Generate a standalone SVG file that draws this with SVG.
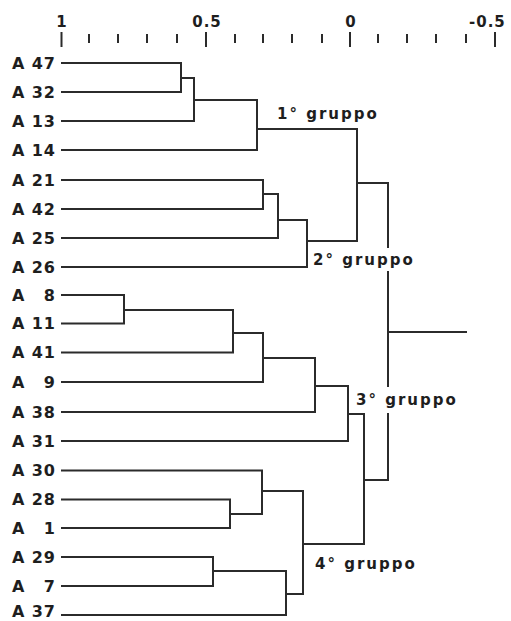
<svg xmlns="http://www.w3.org/2000/svg" width="511" height="621" viewBox="0 0 511 621">
<style>
  .ln { fill: none; stroke: #2b2b2b; stroke-width: 2; stroke-linejoin: miter; }
  .tk { stroke: #2b2b2b; stroke-width: 2; }
  .ax { font-family: "DejaVu Sans", "Liberation Sans", sans-serif; font-weight: bold; font-size: 15px; fill: #1e1e1e; letter-spacing: 1px; }
  .lf { font-family: "DejaVu Sans", "Liberation Sans", sans-serif; font-weight: bold; font-size: 16px; fill: #1e1e1e; letter-spacing: 1px; }
  .gr { font-family: "DejaVu Sans", "Liberation Sans", sans-serif; font-weight: bold; font-size: 15px; fill: #1e1e1e; letter-spacing: 2px; }
</style>
<rect width="511" height="621" fill="#ffffff"/>

<!-- similarity scale -->
<g id="axis">
  <text class="ax" x="62" y="27" text-anchor="middle">1</text>
  <text class="ax" x="207" y="27" text-anchor="middle">0.5</text>
  <text class="ax" x="351" y="27" text-anchor="middle">0</text>
  <text class="ax" x="469" y="27">-0.5</text>
  <g class="tk">
    <line x1="61.5" y1="32" x2="61.5" y2="47"/>
    <line x1="206" y1="32" x2="206" y2="47"/>
    <line x1="350" y1="32" x2="350" y2="47"/>
    <line x1="495" y1="32" x2="495" y2="47"/>
    <line x1="89" y1="34" x2="89" y2="43"/>
    <line x1="118" y1="34" x2="118" y2="43"/>
    <line x1="147" y1="34" x2="147" y2="43"/>
    <line x1="177" y1="34" x2="177" y2="43"/>
    <line x1="235" y1="34" x2="235" y2="43"/>
    <line x1="263" y1="34" x2="263" y2="43"/>
    <line x1="292" y1="34" x2="292" y2="43"/>
    <line x1="322" y1="34" x2="322" y2="43"/>
    <line x1="378" y1="34" x2="378" y2="43"/>
    <line x1="407" y1="34" x2="407" y2="43"/>
    <line x1="436" y1="34" x2="436" y2="43"/>
    <line x1="466" y1="34" x2="466" y2="43"/>
  </g>
</g>

<!-- leaves -->
<g id="A47"><text class="lf" y="68.5"><tspan x="12">A</tspan><tspan x="56" text-anchor="end">47</tspan></text></g>
<g id="A32"><text class="lf" y="97.5"><tspan x="12">A</tspan><tspan x="56" text-anchor="end">32</tspan></text></g>
<g id="A13"><text class="lf" y="126.5"><tspan x="12">A</tspan><tspan x="56" text-anchor="end">13</tspan></text></g>
<g id="A14"><text class="lf" y="155.5"><tspan x="12">A</tspan><tspan x="56" text-anchor="end">14</tspan></text></g>
<g id="A21"><text class="lf" y="185.5"><tspan x="12">A</tspan><tspan x="56" text-anchor="end">21</tspan></text></g>
<g id="A42"><text class="lf" y="214.5"><tspan x="12">A</tspan><tspan x="56" text-anchor="end">42</tspan></text></g>
<g id="A25"><text class="lf" y="243.5"><tspan x="12">A</tspan><tspan x="56" text-anchor="end">25</tspan></text></g>
<g id="A26"><text class="lf" y="272.5"><tspan x="12">A</tspan><tspan x="56" text-anchor="end">26</tspan></text></g>
<g id="A8"><text class="lf" y="300.5"><tspan x="12">A</tspan><tspan x="56" text-anchor="end">8</tspan></text></g>
<g id="A11"><text class="lf" y="329"><tspan x="12">A</tspan><tspan x="56" text-anchor="end">11</tspan></text></g>
<g id="A41"><text class="lf" y="358"><tspan x="12">A</tspan><tspan x="56" text-anchor="end">41</tspan></text></g>
<g id="A9"><text class="lf" y="387.5"><tspan x="12">A</tspan><tspan x="56" text-anchor="end">9</tspan></text></g>
<g id="A38"><text class="lf" y="417.5"><tspan x="12">A</tspan><tspan x="56" text-anchor="end">38</tspan></text></g>
<g id="A31"><text class="lf" y="446.5"><tspan x="12">A</tspan><tspan x="56" text-anchor="end">31</tspan></text></g>
<g id="A30"><text class="lf" y="476"><tspan x="12">A</tspan><tspan x="56" text-anchor="end">30</tspan></text></g>
<g id="A28"><text class="lf" y="505"><tspan x="12">A</tspan><tspan x="56" text-anchor="end">28</tspan></text></g>
<g id="A1"><text class="lf" y="533.5"><tspan x="12">A</tspan><tspan x="56" text-anchor="end">1</tspan></text></g>
<g id="A29"><text class="lf" y="562.5"><tspan x="12">A</tspan><tspan x="56" text-anchor="end">29</tspan></text></g>
<g id="A7"><text class="lf" y="591.5"><tspan x="12">A</tspan><tspan x="56" text-anchor="end">7</tspan></text></g>
<g id="A37"><text class="lf" y="617"><tspan x="12">A</tspan><tspan x="56" text-anchor="end">37</tspan></text></g>

<!-- dendrogram branches -->
<g id="connectors" class="ln">
  <path d="M61 63 H181 V92 H61"/>
  <path d="M181 78 H194 V121 H61"/>
  <path d="M194 100 H257 V150 H61"/>
  <path d="M61 180 H263 V209 H61"/>
  <path d="M263 194 H278 V238 H61"/>
  <path d="M278 220 H307 V267 H61"/>
  <path d="M257 129 H357 V241 H307"/>
  <path d="M357 183 H388 V248 M388 271 V387 M388 413 V480 H364"/>
  <path d="M388 332 H467"/>
  <path d="M61 295 H124 V323.5 H61"/>
  <path d="M124 310 H233 V352.5 H61"/>
  <path d="M233 333 H263 V382 H61"/>
  <path d="M263 358 H315 V412 H61"/>
  <path d="M315 386 H348 V441 H61"/>
  <path d="M348 414 H364 V544 H303"/>
  <path d="M61 499.5 H230 V528 H61"/>
  <path d="M61 470.5 H262 V514 H230"/>
  <path d="M61 557 H213 V586 H61"/>
  <path d="M213 571 H286 V615 H61"/>
  <path d="M262 491 H303 V594 H286"/>
</g>

<!-- cluster names -->
<g id="groups">
  <text class="gr" x="277" y="119">1° gruppo</text>
  <text class="gr" x="313" y="265">2° gruppo</text>
  <text class="gr" x="356" y="405">3° gruppo</text>
  <text class="gr" x="315" y="569">4° gruppo</text>
</g>
</svg>
